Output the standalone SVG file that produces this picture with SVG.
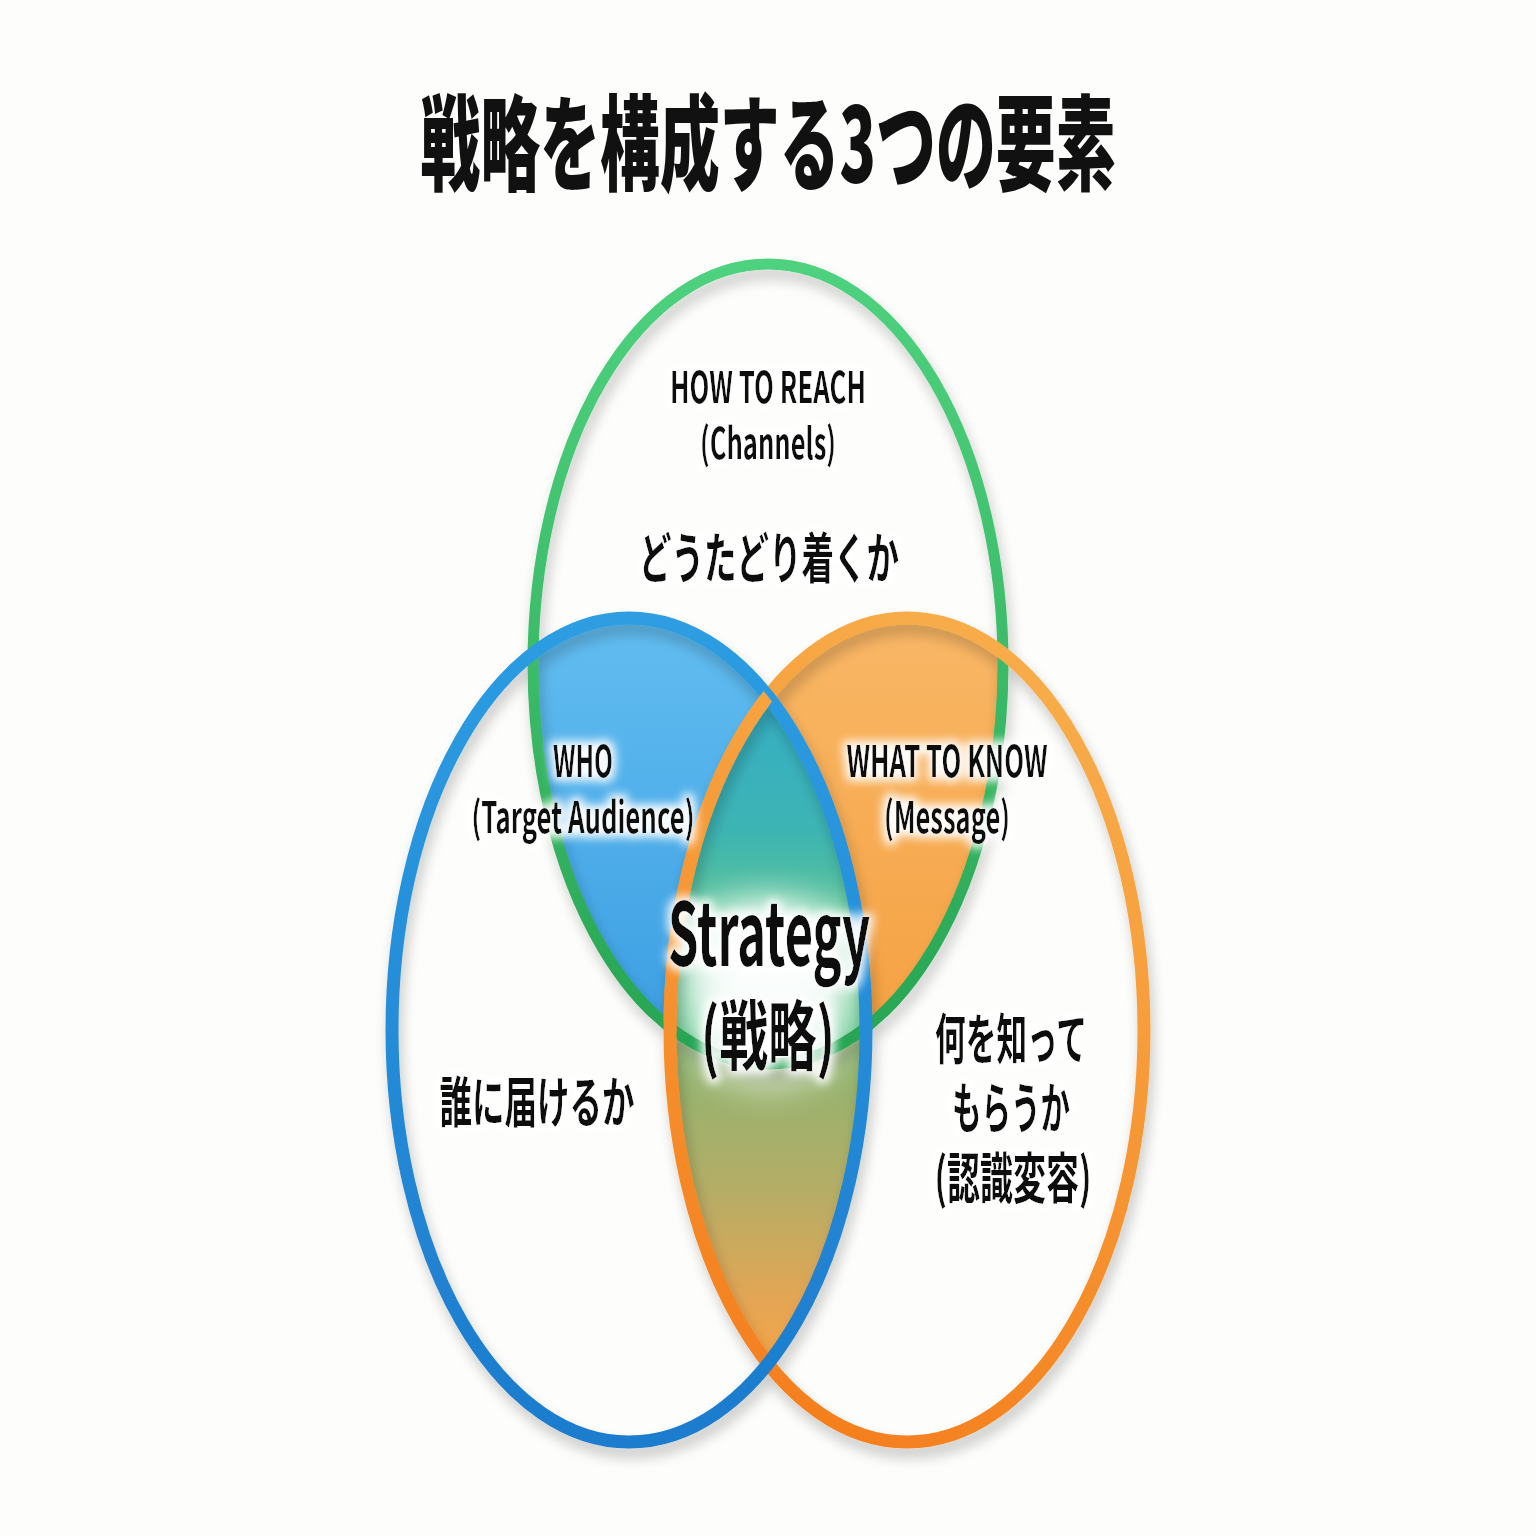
<svg xmlns="http://www.w3.org/2000/svg" width="1536" height="1536" viewBox="0 0 1536 1536">
<style>
.t{font-family:"Noto Sans CJK JP","Noto Sans",sans-serif;fill:#111;text-anchor:middle}
.lat{font-size:43px;font-weight:700}
.jp{font-size:55px;font-weight:700}
</style>
<defs>
<clipPath id="cG"><ellipse cx="768" cy="664" rx="235" ry="400"/></clipPath>
<clipPath id="cB"><ellipse cx="629" cy="1030" rx="237" ry="412"/></clipPath>
<clipPath id="cO"><ellipse cx="907" cy="1030" rx="237" ry="412"/></clipPath>
<linearGradient id="fB" gradientUnits="userSpaceOnUse" x1="0" y1="620" x2="0" y2="1060"><stop offset="0" stop-color="#62bdf0"/><stop offset="1" stop-color="#3a9de2"/></linearGradient>
<linearGradient id="fO" gradientUnits="userSpaceOnUse" x1="0" y1="620" x2="0" y2="1060"><stop offset="0" stop-color="#f9b766"/><stop offset="1" stop-color="#f5a040"/></linearGradient>
<linearGradient id="fT" gradientUnits="userSpaceOnUse" x1="0" y1="700" x2="0" y2="1070"><stop offset="0" stop-color="#36aec4"/><stop offset="0.35" stop-color="#3db4b4"/><stop offset="0.6" stop-color="#5cc590"/><stop offset="1" stop-color="#4fbf7e"/></linearGradient>
<linearGradient id="fBO" gradientUnits="userSpaceOnUse" x1="0" y1="1050" x2="0" y2="1370"><stop offset="0" stop-color="#8db470"/><stop offset="0.45" stop-color="#b6ad66"/><stop offset="0.8" stop-color="#e6a553"/><stop offset="1" stop-color="#f7a747"/></linearGradient>
<linearGradient id="sG" gradientUnits="userSpaceOnUse" x1="0" y1="264" x2="0" y2="1064"><stop offset="0" stop-color="#4fd27f"/><stop offset="1" stop-color="#27a452"/></linearGradient>
<linearGradient id="sB" gradientUnits="userSpaceOnUse" x1="0" y1="618" x2="0" y2="1442"><stop offset="0" stop-color="#2d9de2"/><stop offset="1" stop-color="#1d7bcd"/></linearGradient>
<linearGradient id="sO" gradientUnits="userSpaceOnUse" x1="1120" y1="700" x2="720" y2="1420"><stop offset="0" stop-color="#f8ad4a"/><stop offset="1" stop-color="#f47d1c"/></linearGradient>
<filter id="sh" x="-10%" y="-10%" width="120%" height="120%"><feGaussianBlur in="SourceAlpha" stdDeviation="7"/><feOffset dx="3" dy="9"/><feComponentTransfer><feFuncA type="linear" slope="0.22"/></feComponentTransfer><feMerge><feMergeNode/><feMergeNode in="SourceGraphic"/></feMerge></filter>
<filter id="halo" x="-20%" y="-50%" width="140%" height="200%"><feMorphology in="SourceAlpha" operator="dilate" radius="4" result="d"/><feGaussianBlur in="d" stdDeviation="5" result="b"/><feFlood flood-color="#ffffff" flood-opacity="0.95"/><feComposite in2="b" operator="in" result="w"/><feMerge><feMergeNode in="w"/><feMergeNode in="SourceGraphic"/></feMerge></filter>
<filter id="blur" x="-100%" y="-100%" width="300%" height="300%"><feGaussianBlur stdDeviation="22"/></filter>
</defs>
<rect width="1536" height="1536" fill="#fdfdfb"/>
<g id="title"><text class="t" x="768" y="183" font-size="104" font-weight="900" textLength="695" lengthAdjust="spacingAndGlyphs">戦略を構成する3つの要素</text></g>
<g id="venn-fills">
<g clip-path="url(#cG)"><ellipse cx="629" cy="1030" rx="237" ry="412" fill="url(#fB)"/><ellipse cx="907" cy="1030" rx="237" ry="412" fill="url(#fO)"/></g>
<g clip-path="url(#cB)"><ellipse cx="907" cy="1030" rx="237" ry="412" fill="url(#fBO)"/></g>
<g clip-path="url(#cB)"><g clip-path="url(#cO)"><ellipse cx="768" cy="664" rx="235" ry="400" fill="url(#fT)"/></g></g>
<g clip-path="url(#cB)"><g clip-path="url(#cO)"><ellipse cx="768" cy="995" rx="85" ry="85" fill="#ffffff" opacity="0.95" filter="url(#blur)"/><ellipse cx="768" cy="945" rx="95" ry="40" fill="#ffffff" opacity="0.8" filter="url(#blur)"/></g></g>
</g>
<g id="connectors" fill="none" filter="url(#sh)">
<ellipse id="ring-green" cx="768" cy="664" rx="235" ry="400" stroke="url(#sG)" stroke-width="11"/>
<ellipse id="ring-orange" cx="907" cy="1030" rx="237" ry="412" stroke="url(#sO)" stroke-width="13"/>
<ellipse id="ring-blue" cx="629" cy="1030" rx="237" ry="412" stroke="url(#sB)" stroke-width="13"/>
</g>
<g fill="none"><g clip-path="url(#cG)"><ellipse cx="907" cy="1030" rx="237" ry="412" stroke="url(#sO)" stroke-width="13" clip-path="url(#cB)"/></g></g>
<g id="node-how" filter="url(#halo)">
<text class="t lat" x="768" y="403" textLength="196" lengthAdjust="spacingAndGlyphs">HOW TO REACH</text>
<text class="t lat" x="768" y="459" textLength="136" lengthAdjust="spacingAndGlyphs">(Channels)</text>
<text class="t jp" x="769" y="578" font-size="57" textLength="260" lengthAdjust="spacingAndGlyphs">どうたどり着くか</text>
</g>
<g id="node-who" filter="url(#halo)">
<text class="t lat" x="583" y="777" textLength="60" lengthAdjust="spacingAndGlyphs">WHO</text>
<text class="t lat" x="583" y="833" textLength="223" lengthAdjust="spacingAndGlyphs">(Target Audience)</text>
<text class="t jp" x="537" y="1122" textLength="195" lengthAdjust="spacingAndGlyphs">誰に届けるか</text>
</g>
<g id="node-what" filter="url(#halo)">
<text class="t lat" x="947" y="777" textLength="201" lengthAdjust="spacingAndGlyphs">WHAT TO KNOW</text>
<text class="t lat" x="947" y="833" textLength="126" lengthAdjust="spacingAndGlyphs">(Message)</text>
<text class="t jp" x="1011" y="1059" textLength="152" lengthAdjust="spacingAndGlyphs">何を知って</text>
<text class="t jp" x="1011" y="1128" textLength="118" lengthAdjust="spacingAndGlyphs">もらうか</text>
<text class="t jp" x="1013" y="1198" textLength="157" lengthAdjust="spacingAndGlyphs">(認識変容)</text>
</g>
<g id="node-strategy" filter="url(#halo)">
<text class="t" x="769" y="966" font-size="88" font-weight="700" textLength="202" lengthAdjust="spacingAndGlyphs">Strategy</text>
<text class="t" x="768" y="1064" font-size="76" font-weight="700" textLength="134" lengthAdjust="spacingAndGlyphs">(戦略)</text>
</g>
</svg>
